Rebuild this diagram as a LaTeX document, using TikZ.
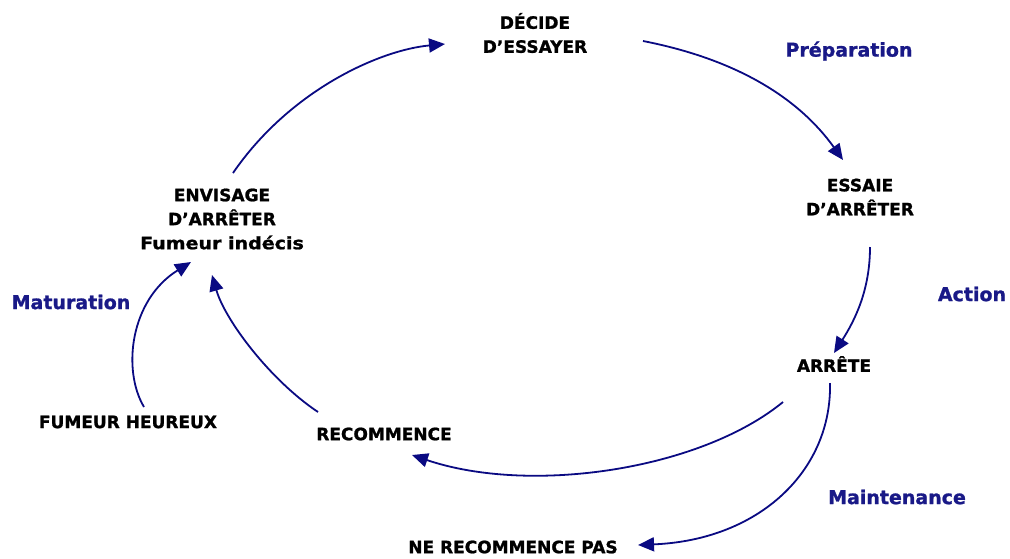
\documentclass[tikz,border=0pt]{standalone}
\usepackage{fontspec}
\setmainfont{DejaVu Sans}[BoldFeatures={FakeBold=1.2}]
\usetikzlibrary{arrows.meta}
\definecolor{arrowblue}{RGB}{10,10,130}
\definecolor{labelblue}{RGB}{25,25,135}
\begin{document}
\begin{tikzpicture}[x=1pt,y=-1pt,
  stage/.style={font=\bfseries\fontsize{17}{24}\selectfont, align=center, inner sep=0pt, text=black},
  phase/.style={font=\bfseries\fontsize{19}{24}\selectfont, inner sep=0pt, text=labelblue},
  flow/.style={draw=arrowblue, line width=1.8pt, -{Triangle[length=16pt,width=14pt]}}]
\useasboundingbox (0,0) rectangle (1010,558);
% stages
\node[stage] (decide) at (535,33) {DÉCIDE\\D'ESSAYER};
\node[stage] (essaie) at (860,197) {ESSAIE\\D'ARRÊTER};
\node[stage] (arrete) at (834,364) {ARRÊTE};
\node[stage] (nerec) at (513,547) {NE RECOMMENCE PAS};
\node[stage] (recom) at (384,434) {RECOMMENCE};
\node[stage] (heureux) at (128,422) {FUMEUR HEUREUX};
\node[stage] (envisage) at (222,219) {ENVISAGE\\D'ARRÊTER\\\scalebox{1.12}[1]{Fumeur indécis}};
% phases
\node[phase] (prep) at (849,51) {Préparation};
\node[phase] (action) at (972,294) {Action};
\node[phase] (maint) at (897,497) {Maintenance};
\node[phase] (matur) at (71,302) {Maturation};
% connector ends
\coordinate (envisage-out) at (233,173);
\coordinate (decide-in) at (445,44);
\coordinate (decide-out) at (643,41);
\coordinate (essaie-in) at (843,160);
\coordinate (essaie-out) at (870,247);
\coordinate (arrete-in) at (834,353);
\coordinate (arrete-out1) at (783,402);
\coordinate (recom-in) at (412,455);
\coordinate (arrete-out2) at (830,383);
\coordinate (nerec-in) at (638,545);
\coordinate (recom-out) at (318,412);
\coordinate (envisage-in1) at (212,275);
\coordinate (heureux-out) at (144,407);
\coordinate (envisage-in2) at (191,262);
% connectors
\draw[flow] (envisage-out) .. controls (290,90) and (380,50) .. (decide-in);
\draw[flow] (decide-out) .. controls (740,60) and (800,100) .. (essaie-in);
\draw[flow] (essaie-out) .. controls (870,290) and (855,320) .. (arrete-in);
\draw[flow] (arrete-out1) .. controls (700,470) and (530,495) .. (recom-in);
\draw[flow] (arrete-out2) .. controls (832,470) and (760,540) .. (nerec-in);
\draw[flow] (recom-out) .. controls (270,380) and (225,320) .. (envisage-in1);
\draw[flow] (heureux-out) .. controls (122,370) and (130,300) .. (envisage-in2);
\end{tikzpicture}
\end{document}
